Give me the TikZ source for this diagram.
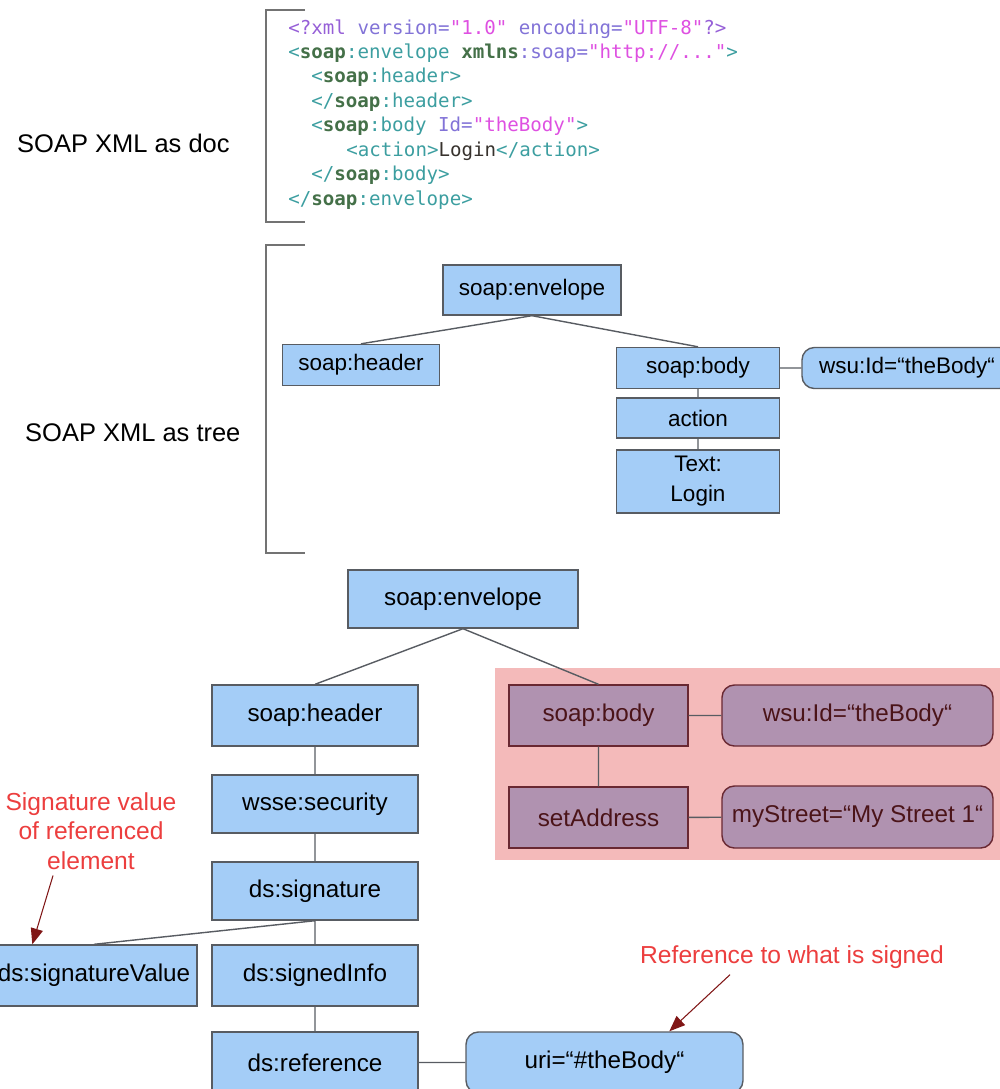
\documentclass[tikz,border=0pt]{standalone}
\usepackage{fontspec}
\setmainfont{Liberation Sans}
\newfontfamily\codefont{DejaVu Sans Mono}
\usepackage{tikz}
\usetikzlibrary{arrows.meta,positioning}

\definecolor{boxblue}{RGB}{164,205,247}
\definecolor{boxline}{RGB}{88,92,98}
\definecolor{bodypink}{RGB}{244,186,186}
\definecolor{bodyfill}{RGB}{176,146,176}
\definecolor{bodyline}{RGB}{105,40,50}
\definecolor{bodytext}{RGB}{75,20,25}
\definecolor{notered}{RGB}{236,62,62}
\definecolor{arrowred}{RGB}{128,22,22}
\definecolor{bracketgray}{RGB}{115,115,115}
% listing colours
\definecolor{xmlpi}{RGB}{150,95,215}
\definecolor{xmltag}{RGB}{60,158,160}
\definecolor{xmlns}{RGB}{68,112,72}
\definecolor{xmlattr}{RGB}{130,115,215}
\definecolor{xmlval}{RGB}{222,80,225}
\definecolor{xmltext}{RGB}{55,50,45}
\newcommand{\xPI}[1]{\textcolor{xmlpi}{#1}}
\newcommand{\xTag}[1]{\textcolor{xmltag}{#1}}
\newcommand{\xNs}[1]{\textcolor{xmlns}{\bfseries #1}}
\newcommand{\xAttr}[1]{\textcolor{xmlattr}{#1}}
\newcommand{\xVal}[1]{\textcolor{xmlval}{#1}}

\tikzset{
  every picture/.style = {
    x = 0.02cm,
    y = -0.02cm
  }
  ,
  tree/.style = {
    rectangle,
    draw = boxline,
    fill = boxblue,
    line width = 0.8pt,
    inner sep = 0pt,
    align = center
  }
  , % font of the plain tree
  docfont/.style = {
    font = \fontsize{12.8}{17}\selectfont
  }
  , % font of the signed tree
  sigfont/.style = {
    font = \fontsize{13.8}{17}\selectfont
  }
  , % attribute boxes
  attrbox/.style = {
    rounded corners = 7pt
  }
  , % signed part
  hilite/.style = {
    fill = bodyfill,
    draw = bodyline,
    text = bodytext
  }
  ,
  link/.style = {
    draw = boxline,
    line width = 0.8pt
  }
  ,
  note/.style = {
    text = notered,
    font = \fontsize{14}{16.7}\selectfont,
    align = center
  }
  ,
  pointer/.style = {
    draw = arrowred,
    line width = 0.6pt,
    -{Triangle[length=9pt,width=7pt]}
  }
  ,
  bracket/.style = {
    draw = bracketgray,
    line width = 1.1pt
  }
}

\begin{document}
\begin{tikzpicture}
\useasboundingbox (0,0) rectangle (1000,1089);

% document view
\draw[bracket] (305,10) -- (266,10) -- (266,222) -- (305,222);
\node[anchor=west, font=\fontsize{14.5}{17}\selectfont] (doclabel) at (11,143) {SOAP XML as doc};
\begin{scope}[every node/.style={anchor=base west, inner sep=0pt, font=\codefont\fontsize{10.9}{13}\selectfont}]
\node (line1) at (288,34) {\xPI{<?xml} \xAttr{version=}\xVal{"1.0"} \xAttr{encoding=}\xVal{"UTF-8"}\xPI{?>}};
\node (line2) at (288,58.4) {\xTag{<}\xNs{soap}\xTag{:envelope} \xNs{xmlns}\xAttr{:soap=}\xVal{"http://..."}\xTag{>}};
\node (line3) at (311,82.9) {\xTag{<}\xNs{soap}\xTag{:header>}};
\node (line4) at (311,107.3) {\xTag{</}\xNs{soap}\xTag{:header>}};
\node (line5) at (311,131.7) {\xTag{<}\xNs{soap}\xTag{:body} \xAttr{Id=}\xVal{"theBody"}\xTag{>}};
\node (line6) at (346,156.1) {\xTag{<action>}\textcolor{xmltext}{Login}\xTag{</action>}};
\node (line7) at (311,180.6) {\xTag{</}\xNs{soap}\xTag{:body>}};
\node (line8) at (288,205) {\xTag{</}\xNs{soap}\xTag{:envelope>}};
\end{scope}

% tree view
\draw[bracket] (305,245) -- (266,245) -- (266,553) -- (305,553);
\node[anchor=west, font=\fontsize{14.5}{17}\selectfont] (treelabel) at (19,433) {SOAP XML as tree};
\node[tree, docfont, minimum width=3.56cm, minimum height=1cm] (env) at (532,290) {soap:envelope};
\node[tree, docfont, minimum width=3.14cm, minimum height=0.82cm] (head) at (361,365) {soap:header};
\node[tree, docfont, minimum width=3.26cm, minimum height=0.82cm] (body) at (698,368) {soap:body};
\node[tree, docfont, attrbox, minimum width=4.2cm, minimum height=0.82cm] (bodyid) at (907,368) {wsu:Id=“theBody“};
\node[tree, docfont, minimum width=3.26cm, minimum height=0.8cm] (action) at (698,418) {action};
\node[tree, docfont, minimum width=3.26cm, minimum height=1.26cm] (login) at (698,481.5) {Text:\\Login};
\path[link] (env.south) -- (head.north)
            (env.south) -- (body.north)
            (body) -- (bodyid)
            (body) -- (action)
            (action) -- (login);

% signed message
\fill[bodypink] (495,668) rectangle (1010,860);
\node[tree, sigfont, minimum width=4.6cm, minimum height=1.16cm] (senv) at (463,599) {soap:envelope};
\node[tree, sigfont, minimum width=4.12cm, minimum height=1.22cm] (shead) at (315,715.5) {soap:header};
\node[tree, sigfont, minimum width=4.12cm, minimum height=1.16cm] (ssec) at (315,804) {wsse:security};
\node[tree, sigfont, minimum width=4.12cm, minimum height=1.16cm] (ssig) at (315,891) {ds:signature};
\node[tree, sigfont, minimum width=4.12cm, minimum height=1.22cm] (ssv) at (94,975.5) {ds:signatureValue};
\node[tree, sigfont, minimum width=4.12cm, minimum height=1.22cm] (sinfo) at (315,975.5) {ds:signedInfo};
\node[tree, sigfont, minimum width=4.12cm, minimum height=1.22cm] (sref) at (315,1062.5) {ds:reference};
\node[tree, sigfont, attrbox, minimum width=5.54cm, minimum height=1.22cm] (suri) at (604.5,1062.5) {uri=“\#theBody“};
\node[tree, sigfont, hilite, minimum width=3.58cm, minimum height=1.22cm] (sbody) at (598.5,715.5) {soap:body};
\node[tree, sigfont, hilite, attrbox, minimum width=5.42cm, minimum height=1.22cm] (sid) at (857.5,715.5) {wsu:Id=“theBody“};
\node[tree, sigfont, hilite, minimum width=3.58cm, minimum height=1.22cm] (saddr) at (598.5,817.5) {setAddress};
\node[tree, sigfont, hilite, attrbox, minimum width=5.42cm, minimum height=1.24cm] (sstreet) at (857.5,817) {myStreet=“My Street 1“};
\path[link] (senv.south) -- (shead.north)
            (senv.south) -- (sbody.north)
            (shead) -- (ssec)
            (ssec) -- (ssig)
            (ssig.south) -- (ssv.north)
            (ssig) -- (sinfo)
            (sinfo) -- (sref)
            (sref) -- (suri)
            (sbody) -- (sid)
            (sbody) -- (saddr)
            (saddr) -- (sstreet);

% notes
\node[note] (svnote) at (91,831) {Signature value\\of referenced\\element};
\node[note] (refnote) at (792,957) {Reference to what is signed};
\draw[pointer] ([xshift=-0.76cm]svnote.south) -- ([xshift=0.84cm]ssv.north west);
\draw[pointer] ([xshift=-1.24cm]refnote.south) -- ([xshift=4.08cm]suri.north west);
\end{tikzpicture}
\end{document}
